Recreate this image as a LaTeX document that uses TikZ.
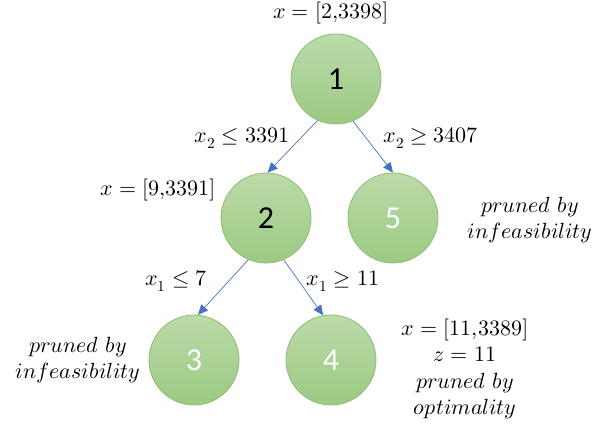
\documentclass[tikz,border=0pt]{standalone}
\usepackage{fontspec}
\usepackage{unicode-math}
\setmathfont{Latin Modern Math}
\newfontfamily\numfont{Carlito}
\definecolor{gtop}{HTML}{BBDBA9}
\definecolor{gbot}{HTML}{9CC983}
\definecolor{gedge}{HTML}{8DBF6F}
\definecolor{arr}{HTML}{4472C4}
\usetikzlibrary{arrows.meta}
\tikzset{
  bbnode/.style={circle, minimum size=90pt, inner sep=0pt, draw=gedge, line width=0.8pt,
    top color=gtop, bottom color=gbot, font=\numfont\fontsize{32}{36}\selectfont},
  lbl/.style={font=\fontsize{22}{26.5}\selectfont, inner sep=0pt, align=center},
  conn/.style={draw=arr, line width=0.7pt, -{Triangle[length=10pt,width=9pt]}}
}
\begin{document}
\begin{tikzpicture}[x=1pt,y=-1pt]
\useasboundingbox (0,0) rectangle (593,430);
\node[bbnode] (n1) at (336,79) {1};
\node[bbnode] (n2) at (266,218) {2};
\node[bbnode, text=white] (n5) at (393,218) {5};
\node[bbnode, text=white] (n3) at (194,360) {3};
\node[bbnode, text=white] (n4) at (331,360) {4};
\draw[conn] (n1.246) -- (n2.88);
\draw[conn] (n1.292) -- (n5.90);
\draw[conn] (n2.247) -- (n3.85);
\draw[conn] (n2.293) -- (n4.100);
\node[lbl] (l1) at (331,13) {$x=[2{,}3398]$};
\node[lbl] (e1) at (242,138) {$x_2\leq 3391$};
\node[lbl] (e2) at (431,138) {$x_2\geq 3407$};
\node[lbl, anchor=east] (l2) at (216,190) {$x=[9{,}3391]$};
\node[lbl] (e3) at (176,281) {$x_1\leq 7$};
\node[lbl] (e4) at (343,281) {$x_1\geq 11$};
\node[lbl] (p5) at (530,220) {$pruned\ by$\\$infeasibility$};
\node[lbl] (p3) at (78,360) {$pruned\ by$\\$infeasibility$};
\node[lbl] (p4) at (465,369) {$x=[11{,}3389]$\\$z=11$\\$pruned\ by$\\$optimality$};
\end{tikzpicture}
\end{document}
